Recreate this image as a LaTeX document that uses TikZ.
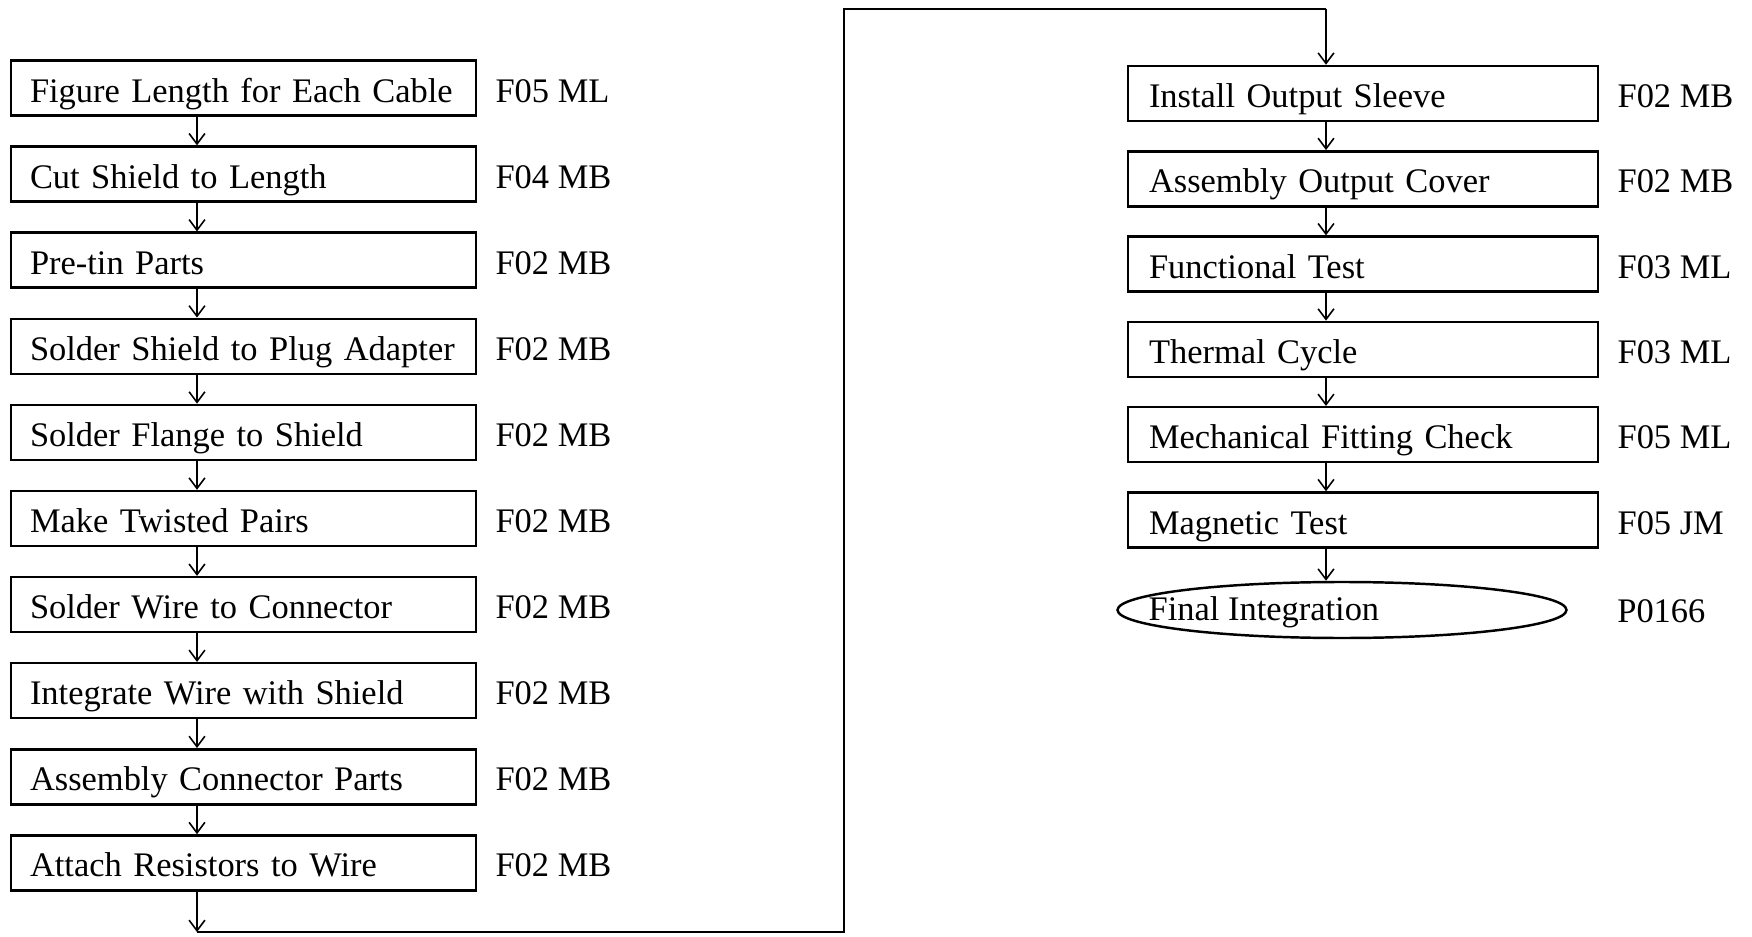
\documentclass[tikz,border=0pt]{standalone}
\usepackage{fontspec}
\setmainfont{Liberation Serif}
\usetikzlibrary{positioning,shapes.geometric,arrows.meta}

\tikzset{
  stepbox/.style={draw, line width=1.4pt, minimum height=1.1cm, text width=8.54cm,
    inner xsep=0.38cm, align=left, text height=16pt, text depth=0pt,
    font=\fontsize{19.6}{24}\selectfont},
  widebox/.style={stepbox, text width=8.56cm, inner xsep=0.42cm},
  endoval/.style={ellipse, draw, line width=1.4pt, minimum width=8.98cm, minimum height=1.12cm},
  tag/.style={inner sep=0pt, text height=16pt, text depth=0pt, font=\fontsize{19.6}{24}\selectfont},
  flow/.style={-{Straight Barb[length=6pt,width=9pt]}, line width=0.9pt}
}

\begin{document}
\begin{tikzpicture}
\useasboundingbox (0,0) rectangle (35.04,-18.74);
\coordinate (lx) at (3.94,0);
\coordinate (rx) at (26.52,0);

% left column
\foreach \txt/\who [count=\i] in {Figure Length for Each Cable/F05 ML, Cut Shield to Length/F04 MB,
  Pre-tin Parts/F02 MB, Solder Shield to Plug Adapter/F02 MB, Solder Flange to Shield/F02 MB,
  Make Twisted Pairs/F02 MB, Solder Wire to Connector/F02 MB, Integrate Wire with Shield/F02 MB,
  Assembly Connector Parts/F02 MB, Attach Resistors to Wire/F02 MB} {
  \node[stepbox] (s\i) at (4.87,{-1.76-1.722*(\i-1)}) {\mbox{\txt}};
  \node[tag, right=0.36cm of s\i] (t\i) {\who};
}
\foreach \i [evaluate=\i as \j using int(\i+1)] in {1,...,9}
  \draw[flow] (s\i.south -| lx) -- (s\j.north -| lx);

% right column
\foreach \txt/\who [count=\i] in {Install Output Sleeve/F02 MB, Assembly Output Cover/F02 MB,
  Functional Test/F03 ML, Thermal Cycle/F03 ML, Mechanical Fitting Check/F05 ML,
  Magnetic Test/F05 JM} {
  \node[widebox] (r\i) at (27.26,{-1.87-1.706*(\i-1)}) {\mbox{\txt}};
  \node[tag, right=0.36cm of r\i] (u\i) {\who};
}
\foreach \i [evaluate=\i as \j using int(\i+1)] in {1,...,5}
  \draw[flow] (r\i.south -| rx) -- (r\j.north -| rx);

\node[endoval, label={[tag, anchor=west, xshift=0.64cm, yshift=2pt]west:Final Integration}] (fin) at (26.84,-12.2) {};
\node[tag, anchor=west] (u7) at (32.34,-12.16) {P0166};
\draw[flow] (r6.south -| rx) -- (fin.north -| rx);

% link between the columns
\coordinate (bl) at (3.94,-18.64);
\coordinate (br) at (16.88,-18.64);
\coordinate (tr) at (16.88,-0.18);
\draw[flow] (s10.south -| lx) -- (bl);
\draw[line width=0.9pt] (bl) -- (br) -- (tr) -- (tr -| rx);
\draw[flow] (tr -| rx) -- (r1.north -| rx);
\end{tikzpicture}
\end{document}
